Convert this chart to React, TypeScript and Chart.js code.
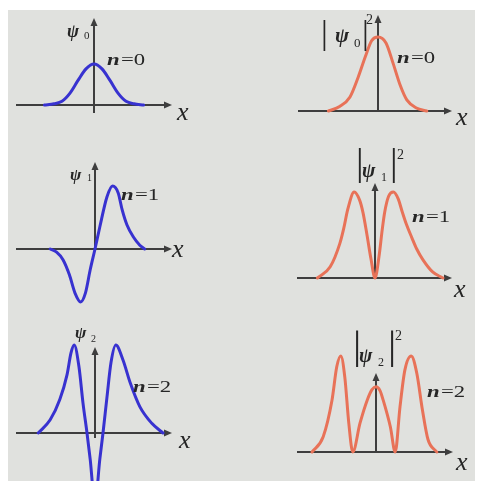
import React, { useEffect, useRef } from "react";
import { Chart, registerables } from "chart.js";

Chart.register(...registerables);

// ---------- data (x in oscillator units, y normalised to each panel's peak) ----------
// ψ0, n = 0
const psi0X = [-3.1, -2.5, -2, -1.5, -1, -0.5, 0, 0.5, 1, 1.5, 2, 2.5, 3.1];
const psi0Y = [0, 0.03, 0.09, 0.29, 0.6, 0.88, 1, 0.88, 0.6, 0.29, 0.09, 0.03, 0];
// |ψ0|², n = 0
const prob0X = [-3.1, -2.4, -1.75, -1.25, -0.8, -0.4, 0, 0.5, 0.95, 1.4, 1.8, 2.4, 3.05];
const prob0Y = [0, 0.06, 0.19, 0.45, 0.73, 0.95, 1, 0.92, 0.64, 0.34, 0.15, 0.04, 0];
// ψ1, n = 1
const psi1X = [-2.8, -2.4, -2.0, -1.6, -1.25, -0.9, -0.6, -0.3, 0, 0.3, 0.75, 1.1, 1.45, 1.7, 2.0, 2.4, 2.8, 3.1];
const psi1Y = [0, -0.05, -0.17, -0.41, -0.7, -0.84, -0.7, -0.33, 0, 0.35, 0.83, 1.0, 0.89, 0.62, 0.38, 0.19, 0.06, 0];
// |ψ1|², n = 1
const prob1X = [-3.6, -2.8, -2.2, -1.95, -1.7, -1.3, -0.95, -0.75, -0.5, -0.25, 0, 0.25, 0.45, 0.6, 0.85, 1.15, 1.45, 1.7, 1.95, 2.3, 2.6, 3.0, 3.6, 4.25];
const prob1Y = [0, 0.13, 0.4, 0.58, 0.8, 1.0, 0.9, 0.76, 0.5, 0.22, 0, 0.25, 0.56, 0.76, 0.95, 1.0, 0.92, 0.77, 0.63, 0.47, 0.34, 0.21, 0.07, 0];
// ψ2, n = 2
const psi2X = [-3.55, -2.8, -2.2, -1.75, -1.5, -1.3, -1.0, -0.75, -0.5, -0.3, 0, 0.3, 0.5, 0.75, 1.0, 1.3, 1.75, 2.2, 2.8, 3.55, 4.25];
const psi2Y = [0, 0.15, 0.38, 0.66, 0.91, 1.0, 0.75, 0.34, 0, -0.3, -0.8, -0.3, 0, 0.41, 0.8, 1.0, 0.83, 0.57, 0.3, 0.11, 0];
// |ψ2|², n = 2
const prob2X = [-4.0, -3.3, -2.75, -2.45, -2.2, -1.95, -1.7, -1.45, -1.0, -0.55, -0.25, 0, 0.25, 0.45, 0.9, 1.2, 1.5, 1.8, 2.2, 2.55, 2.9, 3.25, 3.8];
const prob2Y = [0, 0.16, 0.54, 0.89, 1.0, 0.78, 0.3, 0, 0.3, 0.54, 0.65, 0.68, 0.64, 0.54, 0.26, 0, 0.47, 0.85, 1.0, 0.82, 0.44, 0.13, 0];

// quantum numbers and label texts
const quantumNumbers = ["0", "0", "1", "1", "2", "2"];
const axisLabel = "x";

// ---------- layout / style ----------
const W = 477;
const H = 481;
const SX = 16; // px per x unit
const BLUE = "rgb(56,50,208)";
const ORANGE = "rgb(232,114,88)";
const AXIS = "rgb(62,62,62)";
const TEXT = "rgb(38,38,38)";
const BG = "rgb(224,225,222)";
const SERIF = '"Liberation Serif", "DejaVu Serif", serif';

type Panel = {
  xs: number[];
  ys: number[];
  color: string;
  ox: number;
  oy: number;
  sy: number;
  ax: { l: number; r: number; t: number; b: number };
  psi: { x: number; y: number; size: number; subX: number; subY: number; subSize: number };
  bars?: { l: number; r: number; y: number; size: number; supX: number; supY: number; supSize: number };
  n: { x: number; y: number };
  xl: { x: number; y: number };
};

const PANELS: Panel[] = [
  {
    xs: psi0X, ys: psi0Y, color: BLUE, ox: 94, oy: 105, sy: 41,
    ax: { l: -78, r: 78, t: -87, b: 8 },
    psi: { x: 67, y: 37, size: 18, subX: 84, subY: 39, subSize: 11 },
    n: { x: 107, y: 65 }, xl: { x: 177, y: 120 },
  },
  {
    xs: prob0X, ys: prob0Y, color: ORANGE, ox: 378, oy: 111, sy: 74,
    ax: { l: -80, r: 74, t: -96, b: 0 },
    psi: { x: 335, y: 42, size: 21, subX: 354, subY: 47, subSize: 13 },
    bars: { l: 321, r: 362, y: 44, size: 34, supX: 366, supY: 24, supSize: 14 },
    n: { x: 397, y: 63 }, xl: { x: 456, y: 125 },
  },
  {
    xs: psi1X, ys: psi1Y, color: BLUE, ox: 95, oy: 249, sy: 63,
    ax: { l: -79, r: 77, t: -87, b: 0 },
    psi: { x: 70, y: 180, size: 17, subX: 87, subY: 181, subSize: 10 },
    n: { x: 121, y: 200 }, xl: { x: 172, y: 257 },
  },
  {
    xs: prob1X, ys: prob1Y, color: ORANGE, ox: 375, oy: 278, sy: 86,
    ax: { l: -78, r: 77, t: -95, b: 0 },
    psi: { x: 362, y: 177, size: 20, subX: 381, subY: 181, subSize: 12 },
    bars: { l: 356, r: 390, y: 175, size: 38, supX: 397, supY: 159, supSize: 14 },
    n: { x: 412, y: 222 }, xl: { x: 454, y: 297 },
  },
  {
    xs: psi2X, ys: psi2Y, color: BLUE, ox: 95, oy: 433, sy: 88,
    ax: { l: -79, r: 77, t: -86, b: 5 },
    psi: { x: 75, y: 338, size: 17, subX: 91, subY: 342, subSize: 10 },
    n: { x: 133, y: 392 }, xl: { x: 179, y: 448 },
  },
  {
    xs: prob2X, ys: prob2Y, color: ORANGE, ox: 376, oy: 452, sy: 96,
    ax: { l: -79, r: 77, t: -79, b: 0 },
    psi: { x: 359, y: 362, size: 20, subX: 378, subY: 366, subSize: 12 },
    bars: { l: 353, r: 388, y: 358, size: 41, supX: 395, supY: 340, supSize: 14 },
    n: { x: 427, y: 397 }, xl: { x: 456, y: 470 },
  },
];

function arrowHead(ctx: CanvasRenderingContext2D, x: number, y: number, dir: "right" | "up") {
  const len = 8;
  const half = 3.5;
  ctx.beginPath();
  if (dir === "right") {
    ctx.moveTo(x, y);
    ctx.lineTo(x - len, y - half);
    ctx.lineTo(x - len, y + half);
  } else {
    ctx.moveTo(x, y);
    ctx.lineTo(x - half, y + len);
    ctx.lineTo(x + half, y + len);
  }
  ctx.closePath();
  ctx.fill();
}

const decorPlugin = {
  id: "decor",
  beforeDraw(chart: any) {
    const ctx: CanvasRenderingContext2D = chart.ctx;
    ctx.save();
    ctx.fillStyle = "#ffffff";
    ctx.fillRect(0, 0, W, H);
    ctx.fillStyle = BG;
    ctx.fillRect(8, 10, W - 10, H - 10);
    ctx.restore();
  },
  beforeDatasetsDraw(chart: any) {
    const ctx: CanvasRenderingContext2D = chart.ctx;
    ctx.save();
    ctx.strokeStyle = AXIS;
    ctx.fillStyle = AXIS;
    ctx.lineWidth = 2;
    PANELS.forEach((p, i) => {
      const ox = chart.scales["x" + i].getPixelForValue(0);
      const oy = chart.scales["y" + i].getPixelForValue(0);
      ctx.beginPath();
      ctx.moveTo(ox + p.ax.l, oy);
      ctx.lineTo(ox + p.ax.r - 4, oy);
      ctx.stroke();
      arrowHead(ctx, ox + p.ax.r, oy, "right");
      ctx.beginPath();
      ctx.moveTo(ox, oy + p.ax.b);
      ctx.lineTo(ox, oy + p.ax.t + 4);
      ctx.stroke();
      arrowHead(ctx, ox, oy + p.ax.t, "up");
    });
    ctx.restore();
  },
  afterDatasetsDraw(chart: any) {
    const ctx: CanvasRenderingContext2D = chart.ctx;
    ctx.save();
    ctx.fillStyle = TEXT;
    ctx.textBaseline = "alphabetic";
    ctx.textAlign = "left";
    PANELS.forEach((p, i) => {
      const q = quantumNumbers[i];
      // ψ label
      ctx.font = `italic bold ${p.psi.size}px ${SERIF}`;
      ctx.fillText("ψ", p.psi.x, p.psi.y);
      ctx.font = `${p.psi.subSize}px ${SERIF}`;
      ctx.fillText(q, p.psi.subX, p.psi.subY);
      if (p.bars) {
        ctx.font = `${p.bars.size}px ${SERIF}`;
        ctx.fillText("|", p.bars.l, p.bars.y);
        ctx.fillText("|", p.bars.r, p.bars.y);
        ctx.font = `${p.bars.supSize}px ${SERIF}`;
        ctx.fillText("2", p.bars.supX, p.bars.supY);
      }
      // n = k
      ctx.save();
      ctx.translate(p.n.x, p.n.y);
      ctx.scale(1.42, 1);
      ctx.font = `italic bold 16px ${SERIF}`;
      ctx.fillText("n", 0, 0);
      const nw = ctx.measureText("n").width;
      ctx.font = `16px ${SERIF}`;
      ctx.fillText("=" + q, nw + 1, 0);
      ctx.restore();
      // x axis label
      ctx.font = `italic 26px ${SERIF}`;
      ctx.fillText(axisLabel, p.xl.x, p.xl.y);
    });
    ctx.restore();
  },
};

export default function App() {
  const ref = useRef<HTMLCanvasElement | null>(null);
  useEffect(() => {
    if (!ref.current) return;
    const scales: any = {};
    PANELS.forEach((p, i) => {
      scales["x" + i] = {
        type: "linear",
        axis: "x",
        display: false,
        min: -p.ox / SX,
        max: (W - p.ox) / SX,
      };
      scales["y" + i] = {
        type: "linear",
        axis: "y",
        display: false,
        min: (p.oy - H) / p.sy,
        max: p.oy / p.sy,
      };
    });
    const chart = new Chart(ref.current, {
      type: "line",
      data: {
        datasets: PANELS.map((p, i) => ({
          data: p.xs.map((x, k) => ({ x, y: p.ys[k] })),
          xAxisID: "x" + i,
          yAxisID: "y" + i,
          borderColor: p.color,
          borderWidth: 3,
          pointRadius: 0,
          fill: false,
          cubicInterpolationMode: "monotone" as const,
          borderCapStyle: "round" as const,
          borderJoinStyle: "round" as const,
        })),
      },
      options: {
        animation: false,
        responsive: false,
        devicePixelRatio: 1,
        layout: { padding: 0, autoPadding: false },
        plugins: { legend: { display: false }, tooltip: { enabled: false }, title: { display: false } },
        events: [],
        scales,
      },
      plugins: [decorPlugin],
    });
    return () => chart.destroy();
  }, []);
  return (
    <div style={{ position: "absolute", left: 0, top: 0, width: W, height: H }}>
      <canvas ref={ref} width={W} height={H} style={{ display: "block", width: W, height: H }} />
    </div>
  );
}
